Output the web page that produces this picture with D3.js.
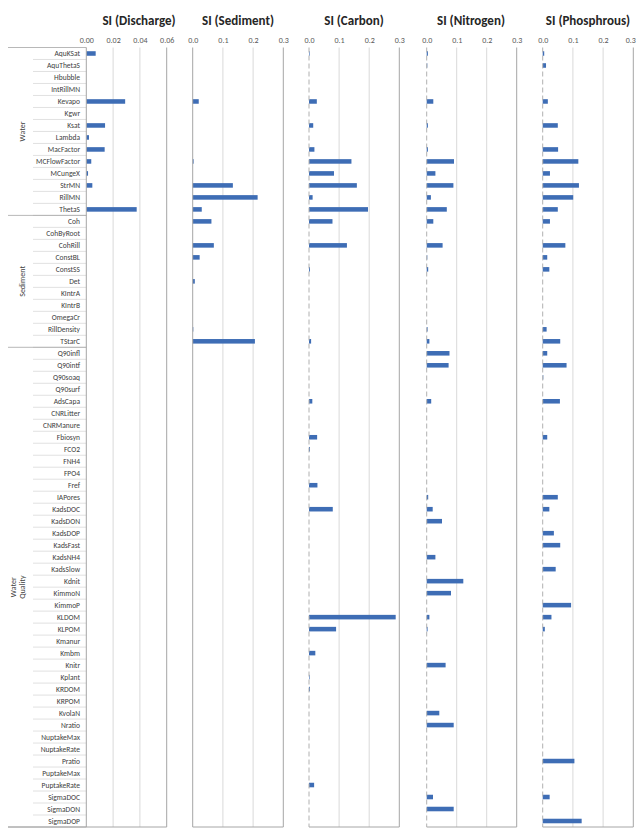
<!DOCTYPE html>
<html>
<head>
<meta charset="utf-8">
<script src="https://cdn.jsdelivr.net/npm/d3@7"></script>
<style>
  body { margin: 0; background: #fff; }
  svg { display: block; font-family: Carlito, Lato, "Open Sans", sans-serif; }
</style>
</head>
<body>
<svg id="chart" width="637" height="830"></svg>
<script>
// categories, grouped as in the original multi-level axis
const categories = [
  "AquKSat", "AquThetaS", "Hbubble", "IntRillMN", "Kevapo", "Kgwr", "Ksat", "Lambda", "MacFactor",
  "MCFlowFactor", "MCungeX", "StrMN", "RillMN", "ThetaS",
  "Coh", "CohByRoot", "CohRill", "ConstBL", "ConstSS", "Det", "KIntrA", "KIntrB", "OmegaCr",
  "RillDensity", "TStarC",
  "Q90infl", "Q90intf", "Q90soaq", "Q90surf", "AdsCapa", "CNRLitter", "CNRManure", "Fbiosyn",
  "FCO2", "FNH4", "FPO4", "Fref", "IAPores", "KadsDOC", "KadsDON", "KadsDOP", "KadsFast",
  "KadsNH4", "KadsSlow", "Kdnit", "KimmoN", "KimmoP", "KLDOM", "KLPOM", "Kmanur", "Kmbm",
  "Knitr", "Kplant", "KRDOM", "KRPOM", "KvolaN", "Nratio", "NuptakeMax", "NuptakeRate",
  "Pratio", "PuptakeMax", "PuptakeRate", "SigmaDOC", "SigmaDON", "SigmaDOP"
];
const groupNames = [["Water"], ["Sediment"], ["Water", "Quality"]];
const groupSizes = [14, 11, 40];

// SI values, one array per output (order = categories)
const discharge = [
  0.007, 0, 0, 0, 0.029, 0, 0.014, 0.002, 0.0137, 0.0037, 0.0013, 0.0045, 0, 0.0376,
  0, 0, 0, 0, 0, 0, 0, 0, 0, 0, 0,
  0, 0, 0, 0, 0, 0, 0, 0, 0, 0, 0, 0, 0, 0, 0, 0, 0, 0, 0, 0,
  0, 0, 0, 0, 0, 0, 0, 0, 0, 0, 0, 0, 0, 0, 0, 0, 0, 0, 0, 0
];
const sediment = [
  0, 0, 0, 0, 0.02, 0, 0, 0, 0, 0.003, 0, 0.133, 0.215, 0.03,
  0.062, 0, 0.07, 0.023, 0, 0.007, 0, 0, 0, 0.002, 0.206,
  0, 0, 0, 0, 0, 0, 0, 0, 0, 0, 0, 0, 0, 0, 0, 0, 0, 0, 0, 0,
  0, 0, 0, 0, 0, 0, 0, 0, 0, 0, 0, 0, 0, 0, 0, 0, 0, 0, 0, 0
];
const carbon = [
  0.002, 0, 0, 0, 0.026, 0, 0.014, 0, 0.018, 0.141, 0.083, 0.159, 0.012, 0.196,
  0.078, 0, 0.126, 0, 0.003, 0, 0, 0, 0, 0, 0.007,
  0, 0, 0, 0, 0.011, 0, 0, 0.027, 0.003, 0, 0, 0.028, 0, 0.079, 0, 0, 0, 0, 0, 0,
  0, 0, 0.288, 0.09, 0, 0.021, 0, 0.002, 0.003, 0, 0, 0, 0, 0, 0, 0, 0.017, 0, 0, 0
];
const nitrogen = [
  0.004, 0.002, 0, 0, 0.022, 0, 0.004, 0, 0.004, 0.091, 0.029, 0.089, 0.014, 0.067,
  0.022, 0, 0.053, 0.002, 0.005, 0, 0, 0, 0, 0.003, 0.009,
  0.076, 0.073, 0, 0, 0.015, 0, 0, 0, 0, 0, 0, 0, 0.005, 0.02, 0.051, 0, 0, 0.029, 0, 0.122,
  0.081, 0, 0.009, 0.003, 0, 0, 0.063, 0, 0, 0, 0.042, 0.09, 0, 0, 0, 0, 0, 0.021, 0.09, 0
];
const phosphorus = [
  0.005, 0.011, 0, 0, 0.017, 0, 0.05, 0, 0.051, 0.118, 0.024, 0.12, 0.101, 0.05,
  0.024, 0, 0.075, 0.015, 0.022, 0, 0, 0, 0, 0.013, 0.058,
  0.015, 0.079, 0.002, 0, 0.057, 0, 0, 0.015, 0, 0, 0, 0, 0.05, 0.022, 0, 0.037, 0.058, 0, 0.043, 0,
  0, 0.094, 0.029, 0.007, 0, 0, 0, 0, 0, 0, 0, 0, 0, 0, 0.105, 0, 0, 0.023, 0, 0.129
];

const panelTitles = ["SI (Discharge)", "SI (Sediment)", "SI (Carbon)", "SI (Nitrogen)", "SI (Phosphrous)"];
const panelSeries = [discharge, sediment, carbon, nitrogen, phosphorus];
const panelTicks = [[0, 0.02, 0.04, 0.06], [0, 0.1, 0.2, 0.3], [0, 0.1, 0.2, 0.3], [0, 0.1, 0.2, 0.3], [0, 0.1, 0.2, 0.3]];
const tickFormats = [".2f", ".1f", ".1f", ".1f", ".1f"];

// layout
const plotTop = 47.5, plotBottom = 827;
const panelX = [[86.3, 166.7], [192.7, 283.3], [309, 399.3], [426.7, 516.7], [542.7, 633.3]];
const titleX = [139, 238, 354, 471, 588];
const barColor = "#3e6db5";

const svg = d3.select("#chart");

const y = d3.scaleBand()
  .domain(categories)
  .range([plotTop, plotBottom])
  .paddingInner(0.62)
  .paddingOuter(0.31);
const step = y.step();

// category labels + row separators
const labels = svg.append("g");
labels.selectAll("line.row")
  .data(d3.range(1, categories.length))
  .enter().append("line")
  .attr("x1", 33).attr("x2", 86.3)
  .attr("y1", i => plotTop + i * step).attr("y2", i => plotTop + i * step)
  .attr("stroke", "#d9d9d9").attr("stroke-width", 0.8);

labels.selectAll("text.cat")
  .data(categories)
  .enter().append("text")
  .attr("x", 80)
  .attr("y", d => y(d) + y.bandwidth() / 2)
  .attr("dy", "0.35em")
  .attr("text-anchor", "end")
  .attr("font-size", 7.5)
  .attr("fill", "#404040")
  .text(d => d);

// group separators and rotated group labels
const groupStarts = d3.cumsum([0, ...groupSizes]);
labels.selectAll("line.grp")
  .data(groupStarts)
  .enter().append("line")
  .attr("x1", 8).attr("x2", 86.3)
  .attr("y1", k => plotTop + k * step).attr("y2", k => plotTop + k * step)
  .attr("stroke", "#a6a6a6").attr("stroke-width", 0.8);

groupNames.forEach((lines, gi) => {
  const cy = plotTop + (groupStarts[gi] + groupSizes[gi] / 2) * step;
  const cx = lines.length > 1 ? 13 : 22;
  const t = labels.append("text")
    .attr("transform", `translate(${cx},${cy}) rotate(-90)`)
    .attr("text-anchor", "middle")
    .attr("font-size", 8)
    .attr("fill", "#404040");
  lines.forEach((s, li) => {
    t.append("tspan").attr("x", 0).attr("dy", li === 0 ? "0.35em" : "1.15em").text(s);
  });
});

// panels
panelSeries.forEach((series, p) => {
  const x = d3.scaleLinear()
    .domain([panelTicks[p][0], panelTicks[p][panelTicks[p].length - 1]])
    .range(panelX[p]);
  const g = svg.append("g");

  // gridlines
  g.selectAll("line.grid")
    .data(panelTicks[p].slice(1, -1))
    .enter().append("line")
    .attr("x1", d => x(d)).attr("x2", d => x(d))
    .attr("y1", plotTop).attr("y2", plotBottom)
    .attr("stroke", "#d9d9d9").attr("stroke-width", 1);

  // top axis labels
  const axis = g.append("g")
    .attr("transform", `translate(0,${plotTop - 5})`)
    .call(d3.axisTop(x).tickValues(panelTicks[p]).tickFormat(d3.format(tickFormats[p])).tickSize(0).tickPadding(0));
  axis.select(".domain").remove();
  axis.selectAll("text")
    .attr("font-size", 8)
    .attr("font-family", "Carlito, Lato, sans-serif")
    .attr("fill", "#595959");
  // keep the last label of the right-most panel inside the page
  if (p === panelSeries.length - 1) {
    axis.selectAll(".tick:last-of-type text").attr("dx", -3);
  }

  // bars
  g.selectAll("rect")
    .data(series.map((v, i) => ({cat: categories[i], v})))
    .enter().append("rect")
    .attr("x", x(0))
    .attr("y", d => y(d.cat))
    .attr("width", d => x(d.v) - x(0))
    .attr("height", y.bandwidth())
    .attr("fill", barColor);

  // frame: right border, bottom border, left axis
  g.append("line")
    .attr("x1", panelX[p][1]).attr("x2", panelX[p][1])
    .attr("y1", plotTop).attr("y2", plotBottom)
    .attr("stroke", "#a6a6a6").attr("stroke-width", 1);
  g.append("line")
    .attr("x1", p === 0 ? 8 : panelX[p][0]).attr("x2", panelX[p][1])
    .attr("y1", plotBottom).attr("y2", plotBottom)
    .attr("stroke", "#a6a6a6").attr("stroke-width", 1);
  g.append("line")
    .attr("x1", panelX[p][0]).attr("x2", panelX[p][0])
    .attr("y1", plotTop).attr("y2", plotBottom)
    .attr("stroke", p < 2 ? "#a6a6a6" : "#b0b0b0")
    .attr("stroke-dasharray", p < 2 ? null : "5,3")
    .attr("stroke-width", 1);

  // title
  svg.append("text")
    .attr("x", titleX[p])
    .attr("y", 25)
    .attr("text-anchor", "middle")
    .attr("font-size", 13)
    .attr("font-weight", "bold")
    .attr("fill", "#262626")
    .text(panelTitles[p]);
});
</script>
</body>
</html>
